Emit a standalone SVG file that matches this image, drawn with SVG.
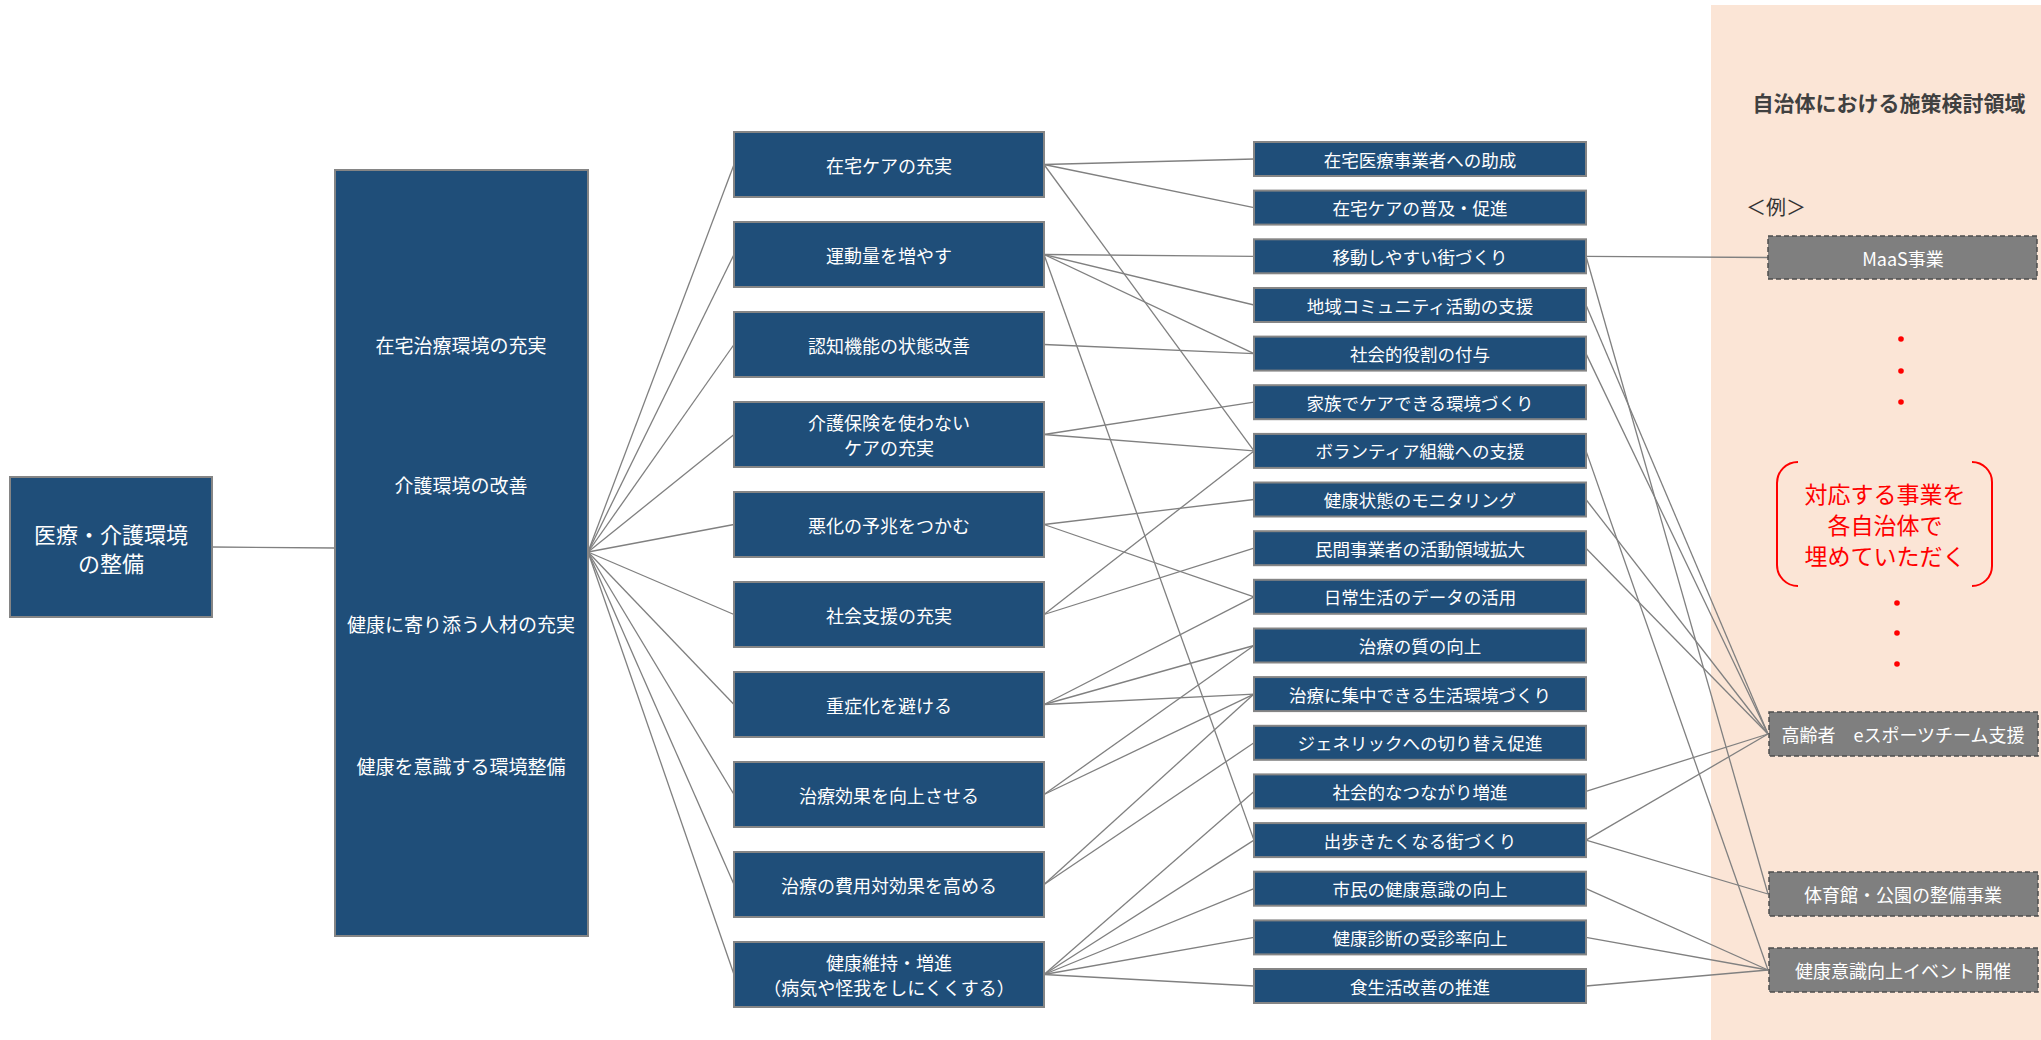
<svg xmlns="http://www.w3.org/2000/svg" width="2041" height="1040" viewBox="0 0 2041 1040">
<style>
.n{fill:#1F4E79;stroke:#858585;stroke-width:2}
.g{fill:#7F7F7F;stroke:#4D4D4D;stroke-width:1.5;stroke-dasharray:5 3}
.t{font-family:"Noto Sans CJK JP","Liberation Sans",sans-serif;fill:#FFFFFF;text-anchor:middle;dominant-baseline:central}
.s1{font-size:19px}
.s2{font-size:18px}
.s3{font-size:17.5px}
.c line{stroke:#808080;stroke-width:1.3;fill:none}
.dot{fill:#FF0000}
</style>
<rect x="1711" y="5" width="330" height="1035" fill="#FBE5D6"/>
<text x="1889" y="102" font-family="Noto Sans CJK JP, Liberation Sans, sans-serif" font-size="21" font-weight="bold" fill="#404040" text-anchor="middle" dominant-baseline="central">自治体における施策検討領域</text>
<text x="1776" y="206" font-family="Noto Sans CJK JP, Liberation Sans, sans-serif" font-size="20" fill="#333333" text-anchor="middle" dominant-baseline="central">＜例＞</text>
<g id="connectors" class="c">
<line x1="212" y1="547" x2="335" y2="548"/>
<line x1="588" y1="552" x2="734" y2="164.5"/>
<line x1="588" y1="552" x2="734" y2="254.5"/>
<line x1="588" y1="552" x2="734" y2="344.5"/>
<line x1="588" y1="552" x2="734" y2="434.5"/>
<line x1="588" y1="552" x2="734" y2="524.5"/>
<line x1="588" y1="552" x2="734" y2="614.5"/>
<line x1="588" y1="552" x2="734" y2="704.5"/>
<line x1="588" y1="552" x2="734" y2="794.5"/>
<line x1="588" y1="552" x2="734" y2="884.5"/>
<line x1="588" y1="552" x2="734" y2="974.5"/>
<line x1="1044" y1="164.5" x2="1254" y2="159"/>
<line x1="1044" y1="164.5" x2="1254" y2="207.6"/>
<line x1="1044" y1="164.5" x2="1254" y2="450.9"/>
<line x1="1044" y1="254.5" x2="1254" y2="256.3"/>
<line x1="1044" y1="254.5" x2="1254" y2="305"/>
<line x1="1044" y1="254.5" x2="1254" y2="353.6"/>
<line x1="1044" y1="254.5" x2="1254" y2="840.1"/>
<line x1="1044" y1="344.5" x2="1254" y2="353.6"/>
<line x1="1044" y1="434.5" x2="1254" y2="402.2"/>
<line x1="1044" y1="434.5" x2="1254" y2="450.9"/>
<line x1="1044" y1="524.5" x2="1254" y2="499.5"/>
<line x1="1044" y1="524.5" x2="1254" y2="596.8"/>
<line x1="1044" y1="614.5" x2="1254" y2="450.9"/>
<line x1="1044" y1="614.5" x2="1254" y2="548.2"/>
<line x1="1044" y1="704.5" x2="1254" y2="596.8"/>
<line x1="1044" y1="704.5" x2="1254" y2="645.5"/>
<line x1="1044" y1="704.5" x2="1254" y2="694.1"/>
<line x1="1044" y1="794.5" x2="1254" y2="645.5"/>
<line x1="1044" y1="794.5" x2="1254" y2="694.1"/>
<line x1="1044" y1="884.5" x2="1254" y2="694.1"/>
<line x1="1044" y1="884.5" x2="1254" y2="742.8"/>
<line x1="1044" y1="974.5" x2="1254" y2="791.4"/>
<line x1="1044" y1="974.5" x2="1254" y2="840.1"/>
<line x1="1044" y1="974.5" x2="1254" y2="888.7"/>
<line x1="1044" y1="974.5" x2="1254" y2="937.4"/>
<line x1="1044" y1="974.5" x2="1254" y2="986"/>
<line x1="1586" y1="256.3" x2="1768" y2="257.5"/>
<line x1="1586" y1="256.3" x2="1768" y2="894"/>
<line x1="1586" y1="305" x2="1768" y2="734"/>
<line x1="1586" y1="353.6" x2="1768" y2="734"/>
<line x1="1586" y1="450.9" x2="1768" y2="970"/>
<line x1="1586" y1="499.5" x2="1768" y2="734"/>
<line x1="1586" y1="548.2" x2="1768" y2="734"/>
<line x1="1586" y1="791.4" x2="1768" y2="734"/>
<line x1="1586" y1="840.1" x2="1768" y2="734"/>
<line x1="1586" y1="840.1" x2="1768" y2="894"/>
<line x1="1586" y1="888.7" x2="1768" y2="970"/>
<line x1="1586" y1="937.4" x2="1768" y2="970"/>
<line x1="1586" y1="986" x2="1768" y2="970"/>
</g>
<g id="root"><rect class="n" x="10" y="477" width="202" height="140"/><text class="t" x="111" y="533" font-size="22">医療・介護環境</text><text class="t" x="111" y="562" font-size="22">の整備</text></g>
<g id="l1"><rect class="n" x="335" y="170" width="253" height="766"/>
<text class="t s1" x="461" y="344">在宅治療環境の充実</text>
<text class="t s1" x="461" y="484">介護環境の改善</text>
<text class="t s1" x="461" y="623">健康に寄り添う人材の充実</text>
<text class="t s1" x="461" y="765">健康を意識する環境整備</text></g>
<g id="l2-1"><rect class="n" x="734" y="132" width="310" height="65"/><text class="t s2" x="889" y="164.5">在宅ケアの充実</text></g>
<g id="l2-2"><rect class="n" x="734" y="222" width="310" height="65"/><text class="t s2" x="889" y="254.5">運動量を増やす</text></g>
<g id="l2-3"><rect class="n" x="734" y="312" width="310" height="65"/><text class="t s2" x="889" y="344.5">認知機能の状態改善</text></g>
<g id="l2-4"><rect class="n" x="734" y="402" width="310" height="65"/><text class="t s2" x="889" y="422">介護保険を使わない</text><text class="t s2" x="889" y="447">ケアの充実</text></g>
<g id="l2-5"><rect class="n" x="734" y="492" width="310" height="65"/><text class="t s2" x="889" y="524.5">悪化の予兆をつかむ</text></g>
<g id="l2-6"><rect class="n" x="734" y="582" width="310" height="65"/><text class="t s2" x="889" y="614.5">社会支援の充実</text></g>
<g id="l2-7"><rect class="n" x="734" y="672" width="310" height="65"/><text class="t s2" x="889" y="704.5">重症化を避ける</text></g>
<g id="l2-8"><rect class="n" x="734" y="762" width="310" height="65"/><text class="t s2" x="889" y="794.5">治療効果を向上させる</text></g>
<g id="l2-9"><rect class="n" x="734" y="852" width="310" height="65"/><text class="t s2" x="889" y="884.5">治療の費用対効果を高める</text></g>
<g id="l2-10"><rect class="n" x="734" y="942" width="310" height="65"/><text class="t s2" x="889" y="962">健康維持・増進</text><text class="t s2" x="889" y="987">（病気や怪我をしにくくする）</text></g>
<g id="l3-1"><rect class="n" x="1254" y="142" width="332" height="34"/><text class="t s3" x="1420" y="159">在宅医療事業者への助成</text></g>
<g id="l3-2"><rect class="n" x="1254" y="190.6" width="332" height="34"/><text class="t s3" x="1420" y="207.6">在宅ケアの普及・促進</text></g>
<g id="l3-3"><rect class="n" x="1254" y="239.3" width="332" height="34"/><text class="t s3" x="1420" y="256.3">移動しやすい街づくり</text></g>
<g id="l3-4"><rect class="n" x="1254" y="288" width="332" height="34"/><text class="t s3" x="1420" y="305">地域コミュニティ活動の支援</text></g>
<g id="l3-5"><rect class="n" x="1254" y="336.6" width="332" height="34"/><text class="t s3" x="1420" y="353.6">社会的役割の付与</text></g>
<g id="l3-6"><rect class="n" x="1254" y="385.2" width="332" height="34"/><text class="t s3" x="1420" y="402.2">家族でケアできる環境づくり</text></g>
<g id="l3-7"><rect class="n" x="1254" y="433.9" width="332" height="34"/><text class="t s3" x="1420" y="450.9">ボランティア組織への支援</text></g>
<g id="l3-8"><rect class="n" x="1254" y="482.5" width="332" height="34"/><text class="t s3" x="1420" y="499.5">健康状態のモニタリング</text></g>
<g id="l3-9"><rect class="n" x="1254" y="531.2" width="332" height="34"/><text class="t s3" x="1420" y="548.2">民間事業者の活動領域拡大</text></g>
<g id="l3-10"><rect class="n" x="1254" y="579.8" width="332" height="34"/><text class="t s3" x="1420" y="596.8">日常生活のデータの活用</text></g>
<g id="l3-11"><rect class="n" x="1254" y="628.5" width="332" height="34"/><text class="t s3" x="1420" y="645.5">治療の質の向上</text></g>
<g id="l3-12"><rect class="n" x="1254" y="677.1" width="332" height="34"/><text class="t s3" x="1420" y="694.1">治療に集中できる生活環境づくり</text></g>
<g id="l3-13"><rect class="n" x="1254" y="725.8" width="332" height="34"/><text class="t s3" x="1420" y="742.8">ジェネリックへの切り替え促進</text></g>
<g id="l3-14"><rect class="n" x="1254" y="774.4" width="332" height="34"/><text class="t s3" x="1420" y="791.4">社会的なつながり増進</text></g>
<g id="l3-15"><rect class="n" x="1254" y="823.1" width="332" height="34"/><text class="t s3" x="1420" y="840.1">出歩きたくなる街づくり</text></g>
<g id="l3-16"><rect class="n" x="1254" y="871.7" width="332" height="34"/><text class="t s3" x="1420" y="888.7">市民の健康意識の向上</text></g>
<g id="l3-17"><rect class="n" x="1254" y="920.4" width="332" height="34"/><text class="t s3" x="1420" y="937.4">健康診断の受診率向上</text></g>
<g id="l3-18"><rect class="n" x="1254" y="969" width="332" height="34"/><text class="t s3" x="1420" y="986">食生活改善の推進</text></g>
<g id="r-maas"><rect class="g" x="1768" y="236" width="269" height="43"/><text class="t s2" x="1903" y="257.5">MaaS事業</text></g>
<g id="r-esports"><rect class="g" x="1769" y="712" width="269" height="44"/><text class="t s2" x="1903" y="734">高齢者　eスポーツチーム支援</text></g>
<g id="r-gym"><rect class="g" x="1769" y="872" width="269" height="44"/><text class="t s2" x="1903" y="894">体育館・公園の整備事業</text></g>
<g id="r-event"><rect class="g" x="1769" y="948" width="269" height="44"/><text class="t s2" x="1903" y="970">健康意識向上イベント開催</text></g>
<g id="dots">
<circle class="dot" cx="1901" cy="339" r="2.8"/><circle class="dot" cx="1901" cy="371" r="2.8"/><circle class="dot" cx="1901" cy="402" r="2.8"/>
<circle class="dot" cx="1897" cy="603" r="2.8"/><circle class="dot" cx="1897" cy="633" r="2.8"/><circle class="dot" cx="1897" cy="664" r="2.8"/>
</g>
<g id="note">
<path d="M1798,462 A21,21 0 0 0 1777,483 V565 A21,21 0 0 0 1798,586 M1972,462 A20,20 0 0 1 1992,482 V566 A20,20 0 0 1 1972,586" fill="none" stroke="#FF0000" stroke-width="2"/>
<text x="1885" y="493" font-family="Noto Sans CJK JP, Liberation Sans, sans-serif" font-size="23" fill="#FF0000" text-anchor="middle" dominant-baseline="central">対応する事業を</text>
<text x="1885" y="524" font-family="Noto Sans CJK JP, Liberation Sans, sans-serif" font-size="23" fill="#FF0000" text-anchor="middle" dominant-baseline="central">各自治体で</text>
<text x="1885" y="555" font-family="Noto Sans CJK JP, Liberation Sans, sans-serif" font-size="23" fill="#FF0000" text-anchor="middle" dominant-baseline="central">埋めていただく</text>
</g>
</svg>
